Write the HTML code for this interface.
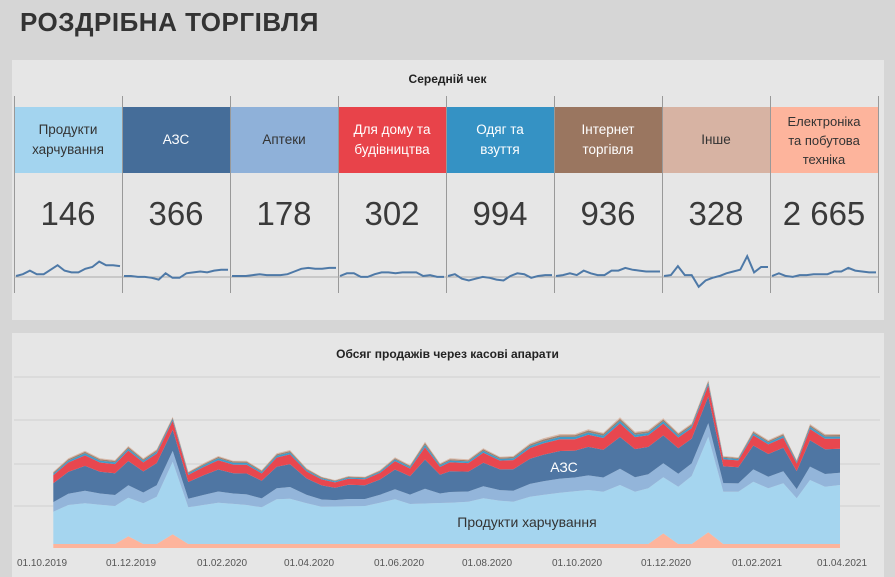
<!DOCTYPE html>
<html><head><meta charset="utf-8"><style>
body{margin:0;width:895px;height:577px;background:#d6d6d6;font-family:"Liberation Sans","DejaVu Sans",sans-serif;overflow:hidden;position:relative}
.t{position:absolute;left:20px;top:7px;font-size:26px;font-weight:bold;color:#333;letter-spacing:0.5px}
.p{position:absolute;background:#e6e6e6}
.h{position:absolute;font-size:12px;font-weight:bold;color:#222;text-align:center;width:100%}
.c{position:absolute;top:107px;width:108px;height:66px;display:flex;align-items:center;justify-content:center;text-align:center;font-size:13.5px;line-height:20px}
.n{position:absolute;top:195px;width:108px;text-align:center;font-size:33px;color:#3a3a3a;font-family:"Liberation Sans",sans-serif}
.v{position:absolute;top:96px;width:1px;height:197px;background:#999}
</style></head><body>
<div class="t">РОЗДРІБНА ТОРГІВЛЯ</div>
<div class="p" style="left:12px;top:60px;width:872px;height:260px"></div>
<div class="h" style="top:72px;left:0">Середній чек</div>
<div class="p" style="left:12px;top:333px;width:872px;height:244px"></div>
<div class="h" style="top:347px;left:0">Обсяг продажів через касові апарати</div>
<div id="cards"></div>
<svg id="sp" width="895" height="577" style="position:absolute;left:0;top:0"></svg>
<svg id="ch" width="895" height="577" style="position:absolute;left:0;top:0">
<g stroke="#d0d0d0" stroke-width="1"><line x1="14" x2="880" y1="377" y2="377"/><line x1="14" x2="880" y1="420" y2="420"/><line x1="14" x2="880" y1="464" y2="464"/><line x1="14" x2="880" y1="506" y2="506"/></g>
<g id="ar"></g>
<text x="564" y="472" fill="#fff" font-size="14" text-anchor="middle" font-family="Liberation Sans">АЗС</text>
<text x="527" y="527" fill="#333" font-size="14" text-anchor="middle" font-family="Liberation Sans">Продукти харчування</text>
<g font-size="10" fill="#555" font-family="Liberation Sans" text-anchor="middle">
<text x="42" y="566">01.10.2019</text><text x="131" y="566">01.12.2019</text><text x="222" y="566">01.02.2020</text><text x="309" y="566">01.04.2020</text><text x="399" y="566">01.06.2020</text><text x="487" y="566">01.08.2020</text><text x="577" y="566">01.10.2020</text><text x="666" y="566">01.12.2020</text><text x="757" y="566">01.02.2021</text><text x="842" y="566">01.04.2021</text></g>
</svg>
<script>
var cards=[["Продукти<br>харчування","#a3d4ef","#333","146"],["АЗС","#456d99","#fff","366"],["Аптеки","#8fb1d9","#333","178"],["Для дому та<br>будівництва","#e8434a","#fff","302"],["Одяг та<br>взуття","#3592c4","#fff","994"],["Інтернет<br>торгівля","#9a7660","#fff","936"],["Інше","#d7b3a3","#333","328"],["Електроніка<br>та побутова<br>техніка","#fdb49c","#333","2 665"]];
var h="";
for(var i=0;i<8;i++){var x=14+i*108;h+='<div class="c" style="left:'+x+'px;background:'+cards[i][1]+';color:'+cards[i][2]+(i==7?';line-height:19px;font-size:13px':'')+'">'+cards[i][0]+'</div><div class="n" style="left:'+x+'px">'+cards[i][3]+'</div>';}
for(var i=0;i<=8;i++){h+='<div class="v" style="left:'+(14+i*108)+'px"></div>';}
document.getElementById("cards").innerHTML=h;
var sp=[[0,2,6,2,2,7,12,6,4,4,8,10,16,12,12,11],[0,0,-1,-1,-2,-4,3,-2,-2,3,4,5,4,6,7,7],[0,0,0,1,2,1,1,1,2,5,8,9,8,8,9,9],[0,3,3,-1,-1,2,4,4,3,4,4,4,0,1,-1,-1],[0,2,-3,-5,-3,-1,-2,-4,-5,0,3,2,-2,0,1,1],[0,1,3,1,6,3,1,1,6,6,9,7,6,5,5,5],[0,1,11,1,1,-12,-5,-2,0,3,5,7,22,4,10,10],[0,3,0,-1,1,1,2,2,2,5,5,9,6,5,4,4]];
var s='<line x1="14" x2="878" y1="277" y2="277" stroke="#aaa"/>';
for(var i=0;i<8;i++){var x0=16+i*108,pts=[];var d=sp[i];for(var j=0;j<d.length;j++){pts.push((x0+j*104/(d.length-1)).toFixed(1)+","+(276-d[j]*0.9).toFixed(1));}
s+='<polyline points="'+pts.join(" ")+'" fill="none" stroke="#4e79a7" stroke-width="2"/>';}
document.getElementById("sp").innerHTML=s;
var T=[[160,305],[205,265],[255,242],[300,265],[345,270],[385,228],[430,265],[470,238],[518,140],[565,305],[610,280],[655,258],[700,272],[740,272],[785,300],[830,250],[870,240],[920,295],[965,320],[1005,330],[1045,318],[1095,320],[1140,300],[1185,262],[1230,285],[1275,215],[1320,280]].map(function(p){return[p[0]/3,370+p[1]/3]});
var T2=[[0,265],[55,268],[100,235],[150,260],[190,258],[240,220],[280,205],[330,192],[375,192],[415,178],[460,188],[510,142],[555,185],[595,180],[640,145],[685,188],[725,160],[775,30],[820,258],[865,262],[910,182],[955,210],[1000,190],[1040,270],[1080,162],[1125,192],[1170,192]].map(function(p){return[450+p[0]/3,370+p[1]/3]});
T=T.concat(T2);
var F=[[160,425],[205,405],[255,400],[345,408],[385,383],[430,400],[470,380],[518,275],[565,412],[655,398],[740,405],[785,412],[830,388],[870,386],[920,400],[965,410],[1095,408],[1185,388],[1230,402],[1350,398]].map(function(p){return[p[0]/3,370+p[1]/3]}).concat([[0,395],[55,395],[100,385],[150,392],[190,395],[240,380],[330,368],[415,360],[460,365],[510,345],[555,365],[595,355],[640,322],[685,350],[725,318],[775,200],[820,365],[865,365],[910,335],[955,355],[1000,340],[1040,385],[1080,330],[1125,350],[1170,345]].map(function(p){return[450+p[0]/3,370+p[1]/3]}));
function interp(arr,x){for(var i=0;i<arr.length-1;i++){if(x>=arr[i][0]&&x<=arr[i+1][0]){var t=(x-arr[i][0])/(arr[i+1][0]-arr[i][0]||1);return arr[i][1]+t*(arr[i+1][1]-arr[i][1]);}}return arr[arr.length-1][1];}
var xs=T.map(function(p){return p[0]});
var base=548;
var E=xs.map(function(x){var v=4;if(Math.abs(x-128)<10)v=4+8*(1-Math.abs(x-128)/10);if(Math.abs(x-173)<10)v=4+10*(1-Math.abs(x-173)/10);if(Math.abs(x-663)<10)v=4+11*(1-Math.abs(x-663)/10);if(Math.abs(x-708)<12)v=4+12*(1-Math.abs(x-708)/12);return base-v;});
var Fy=xs.map(function(x){return interp(F,x)});
var Ty=T.map(function(p){return p[1]});
var fr=[0.24,0.47,0.20,0.04,0.03,0.02];
var cols=["#93b5da","#4f76a3","#e8474f","#3f9cc9","#a08270","#d9b9a8"];
var layers=[E,Fy];var cum=0;
for(var k=0;k<fr.length;k++){cum+=fr[k];layers.push(xs.map(function(x,i){return Fy[i]-(Fy[i]-Ty[i])*cum}));}
var allc=["#fdb49c","#a5d5ef"].concat(cols);
var g="",prev=xs.map(function(){return base});
for(var k=0;k<layers.length;k++){var L=layers[k];var d="M"+xs[0]+","+prev[0];for(var i=0;i<xs.length;i++)d+="L"+xs[i].toFixed(1)+","+L[i].toFixed(1);for(var i=xs.length-1;i>=0;i--)d+="L"+xs[i].toFixed(1)+","+prev[i].toFixed(1);g+='<path d="'+d+'Z" fill="'+allc[k]+'"/>';prev=L;}
document.getElementById("ar").innerHTML=g;
</script>
</body></html>
